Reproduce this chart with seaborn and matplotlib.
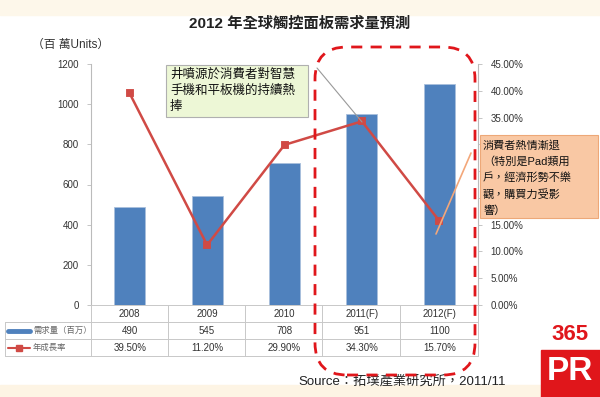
import matplotlib.pyplot as plt
import matplotlib.transforms as mtransforms
from matplotlib.patches import FancyBboxPatch, Rectangle
from matplotlib.lines import Line2D
import pandas as pd
import seaborn as sns

years = ['2008', '2009', '2010', '2011(F)', '2012(F)']
demand = [490, 545, 708, 951, 1100]
growth = [39.5, 11.2, 29.9, 34.3, 15.7]
demand_labels = ['490', '545', '708', '951', '1100']
growth_labels = ['39.50%', '11.20%', '29.90%', '34.30%', '15.70%']
# right-axis ticks; 20-30% sit behind the orange note in the original
pct_ticks = list(range(0, 46, 5))
hidden_pct = [20, 25, 30]

df = pd.DataFrame({'year': years, 'demand': demand, 'growth': growth})

sns.set_style('white')
plt.rcParams['font.family'] = ['Liberation Sans', 'Noto Sans CJK TC']

W, H = 600, 397
fig = plt.figure(figsize=(6, 3.97), dpi=100)


def fx(x):
    return x / W


def fy(y):
    return 1 - y / H


# background bands
fig.add_artist(Rectangle((0, fy(15)), 1, 15 / H, transform=fig.transFigure,
                         color='#fdf7ea', zorder=0))
fig.add_artist(Rectangle((0, 0), 1, 12 / H, transform=fig.transFigure,
                         color='#fdf4e4', zorder=0))

ax = fig.add_axes([fx(91), fy(305), fx(478) - fx(91), fy(64) - fy(305)])
ax2 = ax.twinx()

blue = '#4f81bd'
red = '#d04a45'
sns.barplot(data=df, x='year', y='demand', ax=ax, color=blue, width=0.4,
            saturation=1, edgecolor='#a9c0dc', linewidth=0.6)
sns.pointplot(data=df, x='year', y='growth', ax=ax2, color=red, markers='s',
              markersize=5, linewidth=1.8)

ax.set_ylim(0, 1200)
ax.set_yticks(range(0, 1201, 200))
ax2.set_ylim(0, 45)
ax2.set_yticks(pct_ticks)
ax2.set_yticklabels(['' if v in hidden_pct else f'{v:.2f}%' for v in pct_ticks])
ax.set_xlim(-0.5, 4.5)
ax.set_xticks([])
ax.set_xlabel('')
ax.set_ylabel('')
ax2.set_ylabel('')
ax2.set_xlabel('')

for a in (ax, ax2):
    for s in a.spines.values():
        s.set_visible(False)
    a.tick_params(axis='y', labelsize=7, colors='#333333', length=3,
                  width=0.6, pad=6)
    a.patch.set_alpha(0)
ax.spines['left'].set_visible(True)
ax.spines['left'].set_color('#bbbbbb')
ax2.spines['right'].set_visible(True)
ax2.spines['right'].set_color('#bbbbbb')
ax.tick_params(axis='y', color='#bbbbbb')
ax2.tick_params(axis='y', color='#bbbbbb')

# table below the plot
gray = '#c8c8c8'
for yy, x0 in [(305, 91), (322, 5), (339, 5), (356, 5)]:
    fig.add_artist(Line2D([fx(x0), fx(478)], [fy(yy), fy(yy)],
                          transform=fig.transFigure, color=gray, lw=0.7))
for xx in [168, 245, 322, 400, 478]:
    fig.add_artist(Line2D([fx(xx), fx(xx)], [fy(305), fy(356)],
                          transform=fig.transFigure, color=gray, lw=0.7))
for xx in [5, 91]:
    fig.add_artist(Line2D([fx(xx), fx(xx)], [fy(305 if xx == 91 else 322), fy(356)],
                          transform=fig.transFigure, color=gray, lw=0.7))

trans = mtransforms.blended_transform_factory(ax.transData, fig.transFigure)
for i in range(len(years)):
    ax.text(i, fy(314), years[i], transform=trans, ha='center', va='center',
            fontsize=7, color='#333333')
    ax.text(i, fy(331), demand_labels[i], transform=trans, ha='center',
            va='center', fontsize=7, color='#333333')
    ax.text(i, fy(348), growth_labels[i], transform=trans, ha='center',
            va='center', fontsize=7, color='#333333')

fig.add_artist(Line2D([fx(8), fx(30)], [fy(331), fy(331)], transform=fig.transFigure,
                      color=blue, lw=3.5))
fig.add_artist(Line2D([fx(8), fx(30)], [fy(348), fy(348)], transform=fig.transFigure,
                      color=red, lw=1.5))
fig.add_artist(Line2D([fx(19)], [fy(348)], transform=fig.transFigure,
                      color=red, marker='s', markersize=4))
fig.text(fx(33), fy(331), '需求量（百万）', fontsize=6, color='#666666', va='center')
fig.text(fx(33), fy(348), '年成長率', fontsize=6, color='#666666', va='center')

# titles
fig.text(fx(300), fy(24), '2012 年全球觸控面板需求量預測', ha='center', va='center',
         fontsize=11, fontweight='bold', color='#222222')
fig.text(fx(32), fy(45), '（百 萬Units）', ha='left', va='center', fontsize=8.5,
         color='#333333')
fig.text(fx(298), fy(381), 'Source：拓墣產業研究所，2011/11', ha='left', va='center',
         fontsize=9.5, color='#222222')

# red dashed highlight
fig.add_artist(FancyBboxPatch((315, H - 375), 160, 328,
                              boxstyle='round,pad=0,rounding_size=32',
                              transform=mtransforms.IdentityTransform(),
                              fill=False, edgecolor='#e0161b', lw=2,
                              linestyle=(0, (4, 3)), zorder=5))

# callouts
fig.add_artist(Line2D([fx(317), fx(362)], [fy(68), fy(122)], transform=fig.transFigure,
                      color='#999999', lw=0.8))
fig.add_artist(Line2D([fx(471), fx(436)], [fy(153), fy(234)], transform=fig.transFigure,
                      color='#f3a77a', lw=1.2))
fig.add_artist(Rectangle((fx(166), fy(117)), fx(142), 52 / H, transform=fig.transFigure,
                         facecolor='#edf7d6', edgecolor='#b0b0b0', lw=0.8, zorder=6))
note1 = ['井噴源於消費者對智慧', '手機和平板機的持續熱', '捧']
for k, line in enumerate(note1):
    fig.text(fx(170), fy(75 + k * 16), line, ha='left', va='center', fontsize=9,
             color='#111111', zorder=7)
fig.add_artist(Rectangle((fx(480), fy(218)), fx(118), 83 / H, transform=fig.transFigure,
                         facecolor='#f9c8a4', edgecolor='#eda878', lw=0.8, zorder=6))
note2 = ['消費者熱情漸退', '（特別是Pad類用', '戶，經濟形勢不樂', '觀，購買力受影', '響）']
for k, line in enumerate(note2):
    fig.text(fx(483), fy(145 + k * 16.5), line, ha='left', va='center', fontsize=8,
             color='#111111', zorder=7)

# logo
fig.add_artist(Rectangle((fx(541), 0), fx(59), 47 / H, transform=fig.transFigure,
                         color='#e0161b', zorder=6))
fig.text(fx(570), fy(334), '365', ha='center', va='center', fontsize=16,
         fontweight='bold', color='#e0161b', zorder=7)
fig.text(fx(570), fy(372), 'PR', ha='center', va='center', fontsize=24,
         fontweight='bold', color='white', zorder=7)

fig.savefig('out.png', dpi=100)
